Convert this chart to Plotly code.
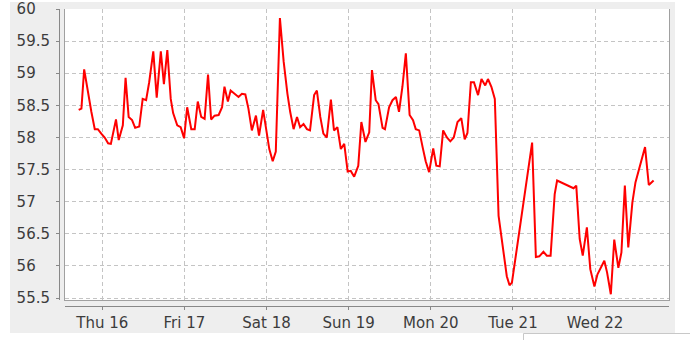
import pandas as pd
import plotly.graph_objects as go

# ---- data ----
start = pd.Timestamp("2017-11-16 00:00")
hours = [-6.9, -6.1, -5.3, -4.2, -3.2, -2.2, -1.3, -0.3, 0.7, 1.7, 2.5, 4.0, 4.8, 6.0, 6.8, 7.7,
         8.7, 9.6, 10.8, 11.8, 12.8, 13.7, 14.9, 15.9, 17.1, 18.0, 19.0, 20.0, 20.7, 21.9, 22.9,
         23.9, 24.8, 26.0, 27.0, 27.9, 28.9, 29.9, 30.9, 31.8, 32.8, 34.0, 35.0, 35.7, 36.7, 37.5,
         38.7, 39.8, 40.8, 41.8, 42.7, 43.7, 44.9, 45.8, 47.0, 48.0, 48.8, 49.8, 50.7, 51.9, 53.0,
         54.1, 54.9, 55.9, 56.9, 57.8, 58.8, 59.8, 60.7, 61.9, 62.7, 63.7, 64.6, 65.6, 66.8, 67.7,
         68.7, 69.7, 70.7, 71.7, 72.6, 73.6, 74.8, 75.7, 76.9, 78.0, 78.8, 79.9, 80.7, 81.9, 82.6,
         83.8, 84.8, 85.8, 86.7, 87.7, 88.7, 89.8, 90.8, 91.6, 92.6, 93.6, 94.5, 95.5, 96.7, 97.6,
         98.6, 99.6, 100.7, 101.7, 102.7, 103.8, 104.9, 105.9, 106.7, 107.7, 108.6, 109.8, 110.8,
         111.9, 112.7, 113.7, 114.7, 115.8, 117.1, 118.2, 119.0, 119.7, 125.6, 126.7, 127.7, 128.9,
         129.9, 131.0, 132.2, 132.9, 137.7, 138.5, 139.5, 140.4, 141.6, 142.6, 143.8, 144.7, 146.7,
         147.5, 148.6, 149.6, 150.8, 151.7, 152.7, 153.7, 154.9, 155.8, 158.6, 159.7, 161.1]
values = [58.43, 58.45, 59.06, 58.68, 58.40, 58.13, 58.13, 58.06, 58.00, 57.91, 57.90, 58.28, 57.96,
          58.19, 58.93, 58.32, 58.27, 58.15, 58.17, 58.60, 58.58, 58.86, 59.34, 58.62, 59.34, 58.83,
          59.36, 58.60, 58.38, 58.19, 58.16, 57.99, 58.47, 58.13, 58.13, 58.56, 58.32, 58.29, 58.98,
          58.28, 58.34, 58.35, 58.47, 58.79, 58.56, 58.73, 58.68, 58.63, 58.68, 58.67, 58.45, 58.11,
          58.34, 58.03, 58.43, 58.07, 57.82, 57.63, 57.78, 59.86, 59.18, 58.68, 58.40, 58.13, 58.32,
          58.16, 58.21, 58.13, 58.11, 58.66, 58.73, 58.32, 58.06, 58.00, 58.59, 58.11, 58.16, 57.82,
          57.90, 57.47, 57.48, 57.39, 57.56, 58.24, 57.93, 58.08, 59.05, 58.58, 58.52, 58.15, 58.13,
          58.47, 58.58, 58.63, 58.40, 58.79, 59.31, 58.35, 58.27, 58.13, 58.11, 57.85, 57.63, 57.46,
          57.83, 57.56, 57.55, 58.11, 58.00, 57.94, 58.00, 58.24, 58.30, 57.97, 58.07, 58.86, 58.86,
          58.66, 58.91, 58.81, 58.91, 58.79, 58.60, 56.78, 56.29, 55.84, 55.70, 55.74, 57.92, 56.14,
          56.15, 56.22, 56.16, 56.16, 57.12, 57.33, 57.21, 57.25, 56.42, 56.16, 56.60, 55.95, 55.68,
          55.87, 56.08, 55.90, 55.56, 56.41, 55.97, 56.21, 57.25, 56.29, 56.99, 57.30, 57.85, 57.26,
          57.33]
x_tick_dates = ["2017-11-16", "2017-11-17", "2017-11-18", "2017-11-19", "2017-11-20", "2017-11-21", "2017-11-22"]
x_tick_labels = ["Thu 16", "Fri 17", "Sat 18", "Sun 19", "Mon 20", "Tue 21", "Wed 22"]
y_tick_vals = [55.5, 56, 56.5, 57, 57.5, 58, 58.5, 59, 59.5, 60]
y_tick_labels = ["55.5", "56", "56.5", "57", "57.5", "58", "58.5", "59", "59.5", "60"]

times = [start + pd.Timedelta(hours=h) for h in hours]
x_range = [start - pd.Timedelta(hours=10.9), start + pd.Timedelta(hours=165.6)]
y_range = [55.47, 60.0]

# pad short labels so right-aligned labels look left-aligned
y_text = [t if "." in t else t + "\u2008\u2007" for t in y_tick_labels]

W, H = 690, 340
L, R, T, B = 59, 21, 9, 34
PW, PH = W - L - R, H - T - B
GAP = 6  # gap between axis line and plot area


def px(p):
    return (p - L) / PW


def py(q):
    return (H - B - q) / PH


FONT = dict(family="DejaVu Sans", size=15, color="#3c3c3c")
GRID = "#c4c4c4"
BORDER = "#a0a0a0"
AXIS = "#888888"

fig = go.Figure()
fig.add_trace(go.Scatter(x=times, y=values, mode="lines",
                         line=dict(color="#ff0000", width=2), hoverinfo="skip", showlegend=False))
fig.add_trace(go.Scatter(x=[], y=[], xaxis="x2", yaxis="y2", showlegend=False, hoverinfo="skip"))

fig.update_layout(
    width=W, height=H,
    margin=dict(l=L, r=R, t=T, b=B, pad=0, autoexpand=False),
    paper_bgcolor="#eeeeee",
    plot_bgcolor="#ffffff",
    showlegend=False,
    xaxis=dict(domain=[GAP / PW, 1], range=x_range, type="date", automargin=False,
               tickvals=x_tick_dates, showticklabels=False, ticks="",
               showgrid=True, gridcolor=GRID, griddash="4px,3px", gridwidth=1,
               showline=True, linecolor=BORDER, linewidth=1, mirror=False,
               zeroline=False, fixedrange=True),
    yaxis=dict(domain=[GAP / PH, 1], range=y_range, automargin=False,
               tickvals=y_tick_vals, showticklabels=False, ticks="",
               showgrid=True, gridcolor=GRID, griddash="4px,3px", gridwidth=1,
               showline=True, linecolor=BORDER, linewidth=1, mirror=True,
               zeroline=False, fixedrange=True),
    xaxis2=dict(overlaying="x", anchor="free", position=0, range=x_range, type="date",
                automargin=False,
                tickvals=x_tick_dates, ticktext=x_tick_labels, tickfont=FONT,
                ticks="outside", ticklen=3, tickcolor=AXIS, tickwidth=1,
                showline=True, linecolor=AXIS, linewidth=1,
                showgrid=False, zeroline=False, fixedrange=True),
    yaxis2=dict(overlaying="y", anchor="free", position=0, side="left", range=y_range,
                automargin=False,
                tickvals=y_tick_vals, ticktext=y_text, tickfont=FONT,
                ticks="outside", ticklen=3, tickcolor=AXIS, tickwidth=1,
                ticklabelstandoff=3,
                showline=True, linecolor=AXIS, linewidth=1,
                showgrid=False, zeroline=False, fixedrange=True),
)

white = "#ffffff"
strips = [
    (px(-20), px(10), py(-20), py(H + 20)),       # left
    (px(675), px(W + 20), py(-20), py(H + 20)),   # right
    (px(-20), px(W + 20), py(333), py(H + 20)),   # bottom
    (px(-20), px(W + 20), py(-20), py(2)),        # top
]
for x0, x1, y0, y1 in strips:
    fig.add_shape(type="rect", xref="paper", yref="paper", x0=x0, x1=x1, y0=y0, y1=y1,
                  fillcolor=white, line=dict(width=0), layer="above")
fig.add_shape(type="rect", xref="paper", yref="paper", x0=px(523.5), x1=px(W + 20),
              y0=py(333.5), y1=py(H + 20), fillcolor=white,
              line=dict(color="#c8c8c8", width=1), layer="above")

fig.write_html("out.html")
